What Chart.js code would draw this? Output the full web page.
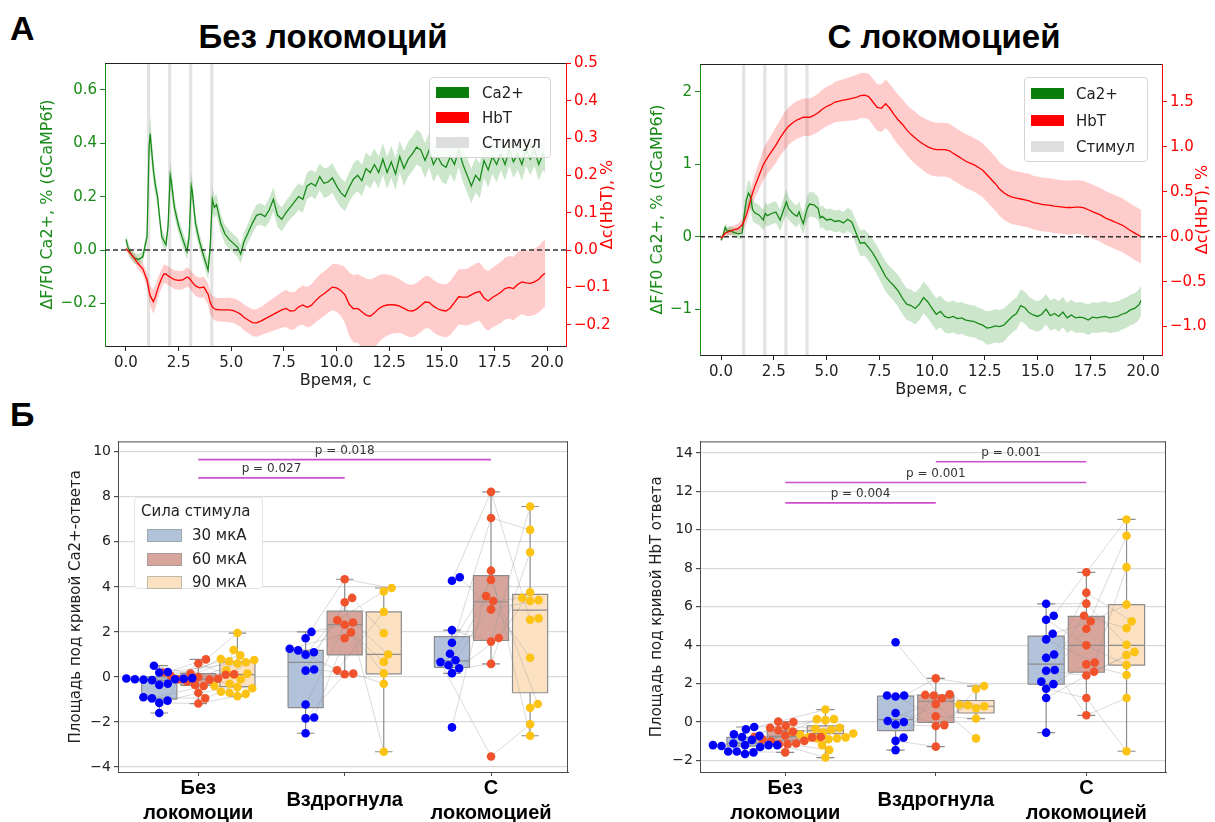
<!DOCTYPE html>
<html lang="ru">
<head>
<meta charset="utf-8">
<title>Ca2+ и HbT: ответы на стимул</title>
<script src="https://cdn.jsdelivr.net/npm/chart.js@4.4.1/dist/chart.umd.min.js"></script>
<style>
  html, body { margin: 0; padding: 0; background: #fff; }
  body { position: relative; width: 1215px; height: 822px; overflow: hidden; font-family: "DejaVu Sans", sans-serif; color: #222; }
  canvas { position: absolute; }
  .letter { position: absolute; font: bold 34px "Liberation Sans", Arial, sans-serif; line-height: 34px; color: #000; }
  .title { position: absolute; font: bold 33px "Liberation Sans", Arial, sans-serif; line-height: 33px; transform: translateX(-50%); white-space: nowrap; color: #000; }
  .legend { position: absolute; background: rgba(255,255,255,0.85); border: 1px solid #d4d4d4; border-radius: 4px; font-size: 15px; box-sizing: border-box; }
  .legend span { position: absolute; white-space: nowrap; line-height: 18px; }
  .legend i { position: absolute; display: block; width: 33px; height: 11px; }
</style>
</head>
<body>
<div class="letter" style="left:10px;top:11px">А</div>
<div class="letter" style="left:10px;top:397px">Б</div>
<div class="title" style="left:323px;top:20px">Без локомоций</div>
<div class="title" style="left:944px;top:20px">С локомоцией</div>

<canvas id="a1" width="582" height="340" style="left:38px;top:50px"></canvas>
<canvas id="a2" width="567" height="349" style="left:648px;top:50px"></canvas>
<canvas id="b1" width="508" height="392" style="left:67px;top:430px"></canvas>
<canvas id="b2" width="527" height="392" style="left:648px;top:430px"></canvas>

<div class="legend" style="left:429px;top:77px;width:122px;height:81px">
  <i style="left:6px;top:9px;background:#0b7d0b"></i><span style="left:52px;top:6px">Ca2+</span>
  <i style="left:6px;top:34px;background:#ff0000"></i><span style="left:52px;top:31px">HbT</span>
  <i style="left:6px;top:59px;background:#dedede"></i><span style="left:52px;top:56px">Стимул</span>
</div>
<div class="legend" style="left:1024px;top:77px;width:124px;height:85px">
  <i style="left:6px;top:10px;background:#0b7d0b"></i><span style="left:51px;top:7px">Ca2+</span>
  <i style="left:6px;top:37px;background:#ff0000"></i><span style="left:51px;top:34px">HbT</span>
  <i style="left:6px;top:63px;background:#dedede"></i><span style="left:51px;top:60px">Стимул</span>
</div>
<div class="legend" style="left:134px;top:497px;width:129px;height:92px;background:#fff;border-color:#e4e4e4">
  <span style="left:6px;top:4px">Сила стимула</span>
  <i style="left:12px;top:31px;background:#b3c2db;border:1px solid #9aa"></i><span style="left:57px;top:28px">30 мкА</span>
  <i style="left:12px;top:55px;background:#d7a59b;border:1px solid #a99"></i><span style="left:57px;top:52px">60 мкА</span>
  <i style="left:12px;top:78px;background:#fbe1c2;border:1px solid #bba"></i><span style="left:57px;top:75px">90 мкА</span>
</div>

<script>
// ---------- data: traces (А) ----------
const stimStart = [1, 2, 3, 4];
const stimDur = 0.15;
const timeTicks = [0, 2.5, 5, 7.5, 10, 12.5, 15, 17.5, 20];

const a1Time = [0, 0.1, 0.2, 0.4, 0.6, 0.8, 1.0, 1.1, 1.15, 1.3, 1.4, 1.5, 1.6, 1.7, 1.8, 1.9, 2.0, 2.1, 2.15, 2.3,
  2.5, 2.7, 2.9, 3.0, 3.1, 3.15, 3.3, 3.5, 3.7, 3.9, 4.0, 4.1, 4.2, 4.3, 4.5, 4.7, 4.9, 5.1, 5.3, 5.45, 5.6, 5.8, 6.0,
  6.2, 6.4, 6.6, 6.8, 7.0, 7.2, 7.4, 7.6, 7.8, 8.0,
  8.2, 8.4, 8.6, 8.8, 9.0, 9.2, 9.4, 9.6, 9.8, 10.0,
  10.2, 10.4, 10.6, 10.8, 11.0, 11.2, 11.4, 11.6, 11.8, 12.0,
  12.2, 12.4, 12.6, 12.8, 13.0, 13.2, 13.4, 13.6, 13.8, 14.0,
  14.2, 14.4, 14.6, 14.8, 15.0, 15.2, 15.4, 15.6, 15.8, 16.0,
  16.2, 16.4, 16.6, 16.8, 17.0, 17.2, 17.4, 17.6, 17.8, 18.0,
  18.2, 18.4, 18.6, 18.8, 19.0, 19.2, 19.4, 19.6, 19.8, 19.9];
const a1Ca = [0.04, 0.01, -0.01, -0.03, -0.035, -0.025, 0.05, 0.39, 0.435, 0.3, 0.24, 0.2, 0.12, 0.05, 0.035, 0.02, 0.09, 0.28, 0.26, 0.16,
  0.09, 0.04, -0.005, 0.05, 0.24, 0.22, 0.1, 0.03, -0.025, -0.075, 0.01, 0.19, 0.16, 0.17, 0.1, 0.06, 0.04, 0.025, 0.01, -0.015, 0.03, 0.065, 0.1,
  0.13, 0.135, 0.125, 0.15, 0.19, 0.13, 0.115, 0.14, 0.16, 0.18,
  0.2, 0.19, 0.24, 0.25, 0.24, 0.275, 0.25, 0.255, 0.27, 0.24,
  0.215, 0.2, 0.235, 0.265, 0.28, 0.26, 0.305, 0.29, 0.32, 0.29,
  0.34, 0.29, 0.33, 0.285, 0.35, 0.305, 0.34, 0.36, 0.385, 0.375,
  0.335, 0.375, 0.32, 0.35, 0.32, 0.31, 0.35, 0.32, 0.375, 0.32,
  0.28, 0.24, 0.28, 0.26, 0.335, 0.3, 0.35, 0.32, 0.36, 0.32,
  0.375, 0.33, 0.36, 0.32, 0.375, 0.34, 0.375, 0.32, 0.36, 0.35];
const a1CaErr = [0.015, 0.02, 0.02, 0.02, 0.02, 0.02, 0.025, 0.05, 0.065, 0.045, 0.04, 0.035, 0.03, 0.03, 0.025, 0.025, 0.03, 0.05, 0.05, 0.035,
  0.03, 0.03, 0.03, 0.035, 0.05, 0.045, 0.035, 0.03, 0.03, 0.035, 0.035, 0.045, 0.04, 0.04, 0.035, 0.035, 0.035, 0.035, 0.035, 0.035, 0.035, 0.035, 0.04,
  0.04, 0.04, 0.04, 0.045, 0.045, 0.045, 0.045, 0.045, 0.045, 0.05,
  0.05, 0.05, 0.05, 0.05, 0.05, 0.05, 0.055, 0.055, 0.055, 0.055,
  0.055, 0.055, 0.055, 0.06, 0.06, 0.06, 0.06, 0.06, 0.06, 0.06,
  0.06, 0.06, 0.06, 0.06, 0.06, 0.065, 0.065, 0.065, 0.065, 0.065,
  0.065, 0.065, 0.065, 0.065, 0.065, 0.065, 0.065, 0.065, 0.065, 0.065,
  0.065, 0.065, 0.065, 0.065, 0.065, 0.065, 0.065, 0.065, 0.06, 0.06,
  0.06, 0.06, 0.06, 0.06, 0.06, 0.06, 0.06, 0.06, 0.06, 0.06];
const a1Hb = [0.004, -0.002, -0.008, -0.022, -0.038, -0.05, -0.08, -0.11, -0.122, -0.138, -0.125, -0.105, -0.089, -0.075, -0.064, -0.064, -0.069, -0.072, -0.074, -0.079,
  -0.081, -0.08, -0.072, -0.075, -0.082, -0.086, -0.096, -0.101, -0.099, -0.118, -0.14, -0.152, -0.157, -0.159, -0.16, -0.16, -0.16, -0.162, -0.167, -0.172, -0.18, -0.187, -0.194,
  -0.195, -0.19, -0.184, -0.178, -0.172, -0.166, -0.16, -0.156, -0.163, -0.162,
  -0.152, -0.147, -0.153, -0.148, -0.136, -0.125, -0.117, -0.108, -0.099, -0.101,
  -0.108, -0.12, -0.145, -0.157, -0.156, -0.165, -0.174, -0.177, -0.168, -0.157,
  -0.15, -0.147, -0.146, -0.147, -0.15, -0.156, -0.162, -0.163, -0.158, -0.149,
  -0.139, -0.14, -0.15, -0.157, -0.161, -0.163, -0.155, -0.14, -0.125, -0.126,
  -0.126, -0.12, -0.114, -0.111, -0.128, -0.136, -0.127, -0.12, -0.113, -0.103,
  -0.1, -0.103, -0.092, -0.085, -0.088, -0.089, -0.085, -0.078, -0.066, -0.062];
const a1HbErr = [0.005, 0.008, 0.01, 0.012, 0.014, 0.016, 0.02, 0.025, 0.028, 0.032, 0.03, 0.028, 0.026, 0.025, 0.025, 0.025, 0.025, 0.025, 0.025, 0.025,
  0.025, 0.025, 0.026, 0.026, 0.026, 0.026, 0.027, 0.027, 0.028, 0.028, 0.03, 0.03, 0.031, 0.031, 0.032, 0.032, 0.033, 0.033, 0.034, 0.034, 0.035, 0.035, 0.036,
  0.037, 0.038, 0.04, 0.042, 0.044, 0.046, 0.048, 0.05, 0.05, 0.05,
  0.05, 0.052, 0.054, 0.056, 0.058, 0.06, 0.06, 0.06, 0.062, 0.064,
  0.068, 0.075, 0.085, 0.09, 0.092, 0.095, 0.098, 0.098, 0.094, 0.09,
  0.086, 0.082, 0.078, 0.075, 0.072, 0.07, 0.07, 0.07, 0.07, 0.07,
  0.07, 0.07, 0.07, 0.07, 0.07, 0.071, 0.072, 0.073, 0.074, 0.075,
  0.076, 0.077, 0.078, 0.078, 0.079, 0.08, 0.08, 0.081, 0.082, 0.083,
  0.084, 0.085, 0.086, 0.087, 0.088, 0.088, 0.089, 0.089, 0.09, 0.09];

const a2Time = [0, 0.1, 0.2, 0.3, 0.4, 0.6, 0.8, 1.0, 1.1, 1.2, 1.3, 1.4, 1.5, 1.6, 1.8, 2.0, 2.1, 2.2, 2.4, 2.6,
  2.8, 3.0, 3.1, 3.2, 3.4, 3.6, 3.7, 3.8, 3.9, 4.0, 4.1, 4.2, 4.4, 4.6, 4.7,
  4.8, 5.0, 5.2, 5.4, 5.6, 5.8, 6.0, 6.2, 6.4, 6.6,
  6.8, 7.0, 7.2, 7.4, 7.6, 7.8, 8.0, 8.2, 8.4, 8.6,
  8.8, 9.0, 9.2, 9.4, 9.6, 9.8, 10.0, 10.2, 10.4, 10.6,
  10.8, 11.0, 11.2, 11.4, 11.6, 11.8, 12.0, 12.2, 12.4, 12.6,
  12.8, 13.0, 13.2, 13.4, 13.6, 13.8, 14.0, 14.2, 14.4, 14.6,
  14.8, 15.0, 15.2, 15.4, 15.6, 15.8, 16.0, 16.2, 16.4, 16.6,
  16.8, 17.0, 17.2, 17.4, 17.6, 17.8, 18.0, 18.2, 18.4, 18.6,
  18.8, 19.0, 19.2, 19.4, 19.6, 19.8, 19.9];
const a2Ca = [-0.05, 0.02, 0.13, 0.07, 0.09, 0.06, 0.04, 0.05, 0.3, 0.5, 0.6, 0.55, 0.37, 0.33, 0.3, 0.23, 0.32, 0.29, 0.32, 0.34,
  0.23, 0.4, 0.48, 0.39, 0.32, 0.28, 0.34, 0.25, 0.18, 0.3, 0.4, 0.45, 0.44, 0.39, 0.26,
  0.28, 0.23, 0.24, 0.21, 0.22, 0.19, 0.24, 0.2, 0.05, -0.09,
  -0.08, -0.15, -0.23, -0.33, -0.44, -0.55, -0.62, -0.68, -0.75, -0.85,
  -0.93, -0.95, -0.99, -0.93, -0.84, -0.9, -0.99, -1.07, -1.03, -1.1,
  -1.12, -1.1, -1.13, -1.12, -1.15, -1.16, -1.17, -1.2, -1.22, -1.26,
  -1.25, -1.23, -1.24, -1.22, -1.16, -1.1, -1.06, -0.95, -0.98, -1.05,
  -1.08, -1.1, -1.07, -1.0, -1.09, -1.06, -1.1, -1.04, -1.12, -1.08,
  -1.12, -1.11, -1.12, -1.15, -1.11, -1.12, -1.11, -1.1, -1.12, -1.11,
  -1.1, -1.07, -1.05, -1.01, -0.99, -0.94, -0.88];
const a2CaErr = [0.03, 0.05, 0.06, 0.06, 0.06, 0.06, 0.07, 0.08, 0.12, 0.16, 0.19, 0.18, 0.15, 0.14, 0.14, 0.14, 0.15, 0.15, 0.15, 0.15,
  0.15, 0.16, 0.18, 0.16, 0.15, 0.15, 0.15, 0.15, 0.15, 0.15, 0.16, 0.17, 0.17, 0.16, 0.15,
  0.15, 0.15, 0.15, 0.15, 0.15, 0.15, 0.16, 0.16, 0.17, 0.18,
  0.18, 0.19, 0.19, 0.2, 0.2, 0.21, 0.21, 0.21, 0.22, 0.22,
  0.22, 0.22, 0.22, 0.22, 0.22, 0.22, 0.22, 0.22, 0.22, 0.22,
  0.22, 0.22, 0.22, 0.22, 0.22, 0.22, 0.22, 0.22, 0.22, 0.23,
  0.23, 0.23, 0.23, 0.23, 0.22, 0.22, 0.22, 0.22, 0.22, 0.22,
  0.21, 0.21, 0.21, 0.21, 0.21, 0.21, 0.21, 0.21, 0.21, 0.21,
  0.21, 0.21, 0.21, 0.21, 0.21, 0.21, 0.21, 0.21, 0.21, 0.21,
  0.21, 0.21, 0.21, 0.21, 0.21, 0.21, 0.2];
const a2Hb = [-0.02, 0.01, 0.04, 0.05, 0.06, 0.075, 0.09, 0.13, 0.18, 0.24, 0.32, 0.41, 0.49, 0.56, 0.68, 0.8, 0.84, 0.88, 0.95, 1.02,
  1.1, 1.17, 1.2, 1.23, 1.27, 1.3, 1.31, 1.32, 1.33, 1.33, 1.33, 1.33, 1.35, 1.38, 1.4,
  1.42, 1.45, 1.47, 1.5, 1.51, 1.52, 1.53, 1.54, 1.55, 1.57,
  1.575, 1.56, 1.5, 1.44, 1.43, 1.48, 1.43, 1.36, 1.3, 1.25,
  1.19, 1.14, 1.1, 1.06, 1.03, 1.0, 0.98, 0.97, 0.97, 0.97,
  0.96, 0.93, 0.9, 0.87, 0.84, 0.82, 0.8, 0.77, 0.74, 0.69,
  0.64, 0.59, 0.53, 0.49, 0.46, 0.44, 0.43, 0.42, 0.41, 0.4,
  0.38, 0.37, 0.36, 0.355, 0.35, 0.34, 0.335, 0.33, 0.325, 0.325,
  0.33, 0.33, 0.32, 0.3, 0.28, 0.26, 0.24, 0.21, 0.19, 0.17,
  0.15, 0.13, 0.1, 0.07, 0.04, 0.015, 0.0];
const a2HbErr = [0.03, 0.03, 0.035, 0.04, 0.045, 0.05, 0.055, 0.07, 0.08, 0.09, 0.1, 0.11, 0.12, 0.13, 0.15, 0.17, 0.175, 0.18, 0.19, 0.2,
  0.2, 0.21, 0.21, 0.21, 0.21, 0.21, 0.21, 0.21, 0.21, 0.21, 0.21, 0.21, 0.21, 0.215, 0.215,
  0.22, 0.22, 0.22, 0.225, 0.23, 0.235, 0.24, 0.245, 0.25, 0.25,
  0.25, 0.255, 0.26, 0.26, 0.265, 0.27, 0.27, 0.275, 0.28, 0.28,
  0.28, 0.285, 0.29, 0.29, 0.295, 0.3, 0.3, 0.3, 0.3, 0.3,
  0.3, 0.3, 0.3, 0.3, 0.3, 0.3, 0.3, 0.3, 0.3, 0.3,
  0.3, 0.3, 0.3, 0.3, 0.3, 0.3, 0.3, 0.3, 0.3, 0.3,
  0.3, 0.3, 0.3, 0.3, 0.3, 0.3, 0.3, 0.3, 0.3, 0.3,
  0.3, 0.3, 0.3, 0.3, 0.3, 0.3, 0.3, 0.3, 0.3, 0.3,
  0.3, 0.3, 0.3, 0.3, 0.3, 0.3, 0.3];

const a1LeftTicks = [-0.2, 0, 0.2, 0.4, 0.6];
const a1RightTicks = [-0.2, -0.1, 0, 0.1, 0.2, 0.3, 0.4, 0.5];
const a2LeftTicks = [-1, 0, 1, 2];
const a2RightTicks = [-1, -0.5, 0, 0.5, 1, 1.5];

// ---------- data: areas under curve (Б) ----------
const categories = [['Без', 'локомоции'], 'Вздрогнула', ['С', 'локомоцией']];
const caTicks = [-4, -2, 0, 2, 4, 6, 8, 10];
const hbTicks = [-2, 0, 2, 4, 6, 8, 10, 12, 14];

// one inner list per category, values in subject order
const caPts30 = [
  [0.5, 0.22, 0.2, -0.05, -0.07, -0.08, -0.1, -0.1, -0.12, -0.14, -0.3, -0.35, -0.9, -0.95, -1.05, -1.15, -1.6],
  [2.0, 1.72, 1.25, 1.18, 1.1, 0.99, 0.33, 0.28, -1.22, -1.8, -1.84, -2.5],
  [4.43, 4.27, 2.08, 1.52, 1.03, 0.74, 0.66, 0.52, 0.38, 0.17, -2.24]];
const caPts60 = [
  [0.15, 0.78, 0.12, 0.2, -0.08, 0.1, 0.6, 0.05, -0.35, 0.0, -0.12, -0.2, -0.95, -0.4, -0.7, -1.18, -0.1],
  [2.42, 4.34, 1.98, 0.3, 2.52, 3.51, 0.15, 3.32, 2.32, 1.72, 0.12],
  [3.0, 8.22, 1.57, 4.31, 7.06, 3.37, -3.53, 3.59, 0.58, 1.73, 4.72]];
const caPts90 = [
  [0.8, 1.95, 0.1, 0.65, 0.3, 1.2, -0.1, 0.96, -0.5, 0.15, -0.3, 0.6, -0.65, 0.75, -0.45, -0.85, 0.7, -0.75, -0.4, -0.7],
  [1.0, 3.95, 0.67, 2.89, 3.8, 1.94, -0.3, -3.32, 0.16],
  [3.41, 2.54, 7.57, -1.2, 6.53, 3.51, -2.1, 0.85, 5.54, 3.76, -2.61, 3.37, 2.6, -1.37]];
// [lower whisker, q1, median, q3, upper whisker] per category
const caBox30 = [[-1.6, -0.98, -0.15, 0.0, 0.5], [-2.5, -1.36, 0.65, 1.18, 2.0], [0.16, 0.42, 0.71, 1.79, 2.08]];
const caBox60 = [[-1.18, -0.38, -0.1, 0.15, 0.78], [0.12, 0.98, 2.32, 2.92, 4.34], [0.58, 1.62, 3.34, 4.5, 8.22]];
const caBox90 = [[-0.85, -0.43, 0.1, 0.67, 1.95], [-3.32, 0.14, 1.0, 2.89, 3.95], [-2.61, -0.7, 2.97, 3.67, 7.57]];
const caSig = [[0, 1, 8.84, 'p = 0.027'], [0, 2, 9.65, 'p = 0.018']];

const hbPts30 = [
  [-0.26, -0.38, -0.64, -0.72, -0.78, -0.93, -1.12, -1.2, -1.2, -1.2, -1.2, -1.25, -1.3, -1.53, -1.53, -1.58, -1.66],
  [4.15, 1.38, 1.33, 1.38, 0.47, 0.05, 0.0, -0.13, -0.81, -0.98, -1.46],
  [6.15, 5.53, 5.32, 4.59, 4.3, 3.51, 3.34, 2.71, 2.67, 2.1, 1.97, 1.73, 1.25, -0.55]];
const hbPts60 = [
  [-0.2, 0.02, -0.43, -0.3, -0.78, -0.5, -1.12, -0.7, 0.0, -0.8, -1.15, -0.98, -0.78, -1.58, -0.9, -1.15, -1.0],
  [1.24, 2.27, 0.3, 1.41, -0.16, 1.44, 0.93, -0.21, 1.38, -1.28],
  [6.16, 7.79, 3.99, 5.24, 3.1, 6.73, 0.35, 4.85, 2.42, 5.53, 3.0, 1.25, 2.62]];
const hbPts90 = [
  [-0.4, 0.65, -0.55, 0.15, -0.85, -0.3, -0.6, -0.35, 0.1, -0.8, -1.45, -0.5, -0.9, -0.65, -1.85, -0.8, 0.15, -1.2, -0.85],
  [0.82, 1.87, 0.18, 0.9, 1.72, 0.72, -0.85, 0.87],
  [4.02, 10.54, 2.96, 6.11, 8.06, 5.24, 1.25, 9.69, 3.48, 4.88, 2.45, -1.52, 3.65]];
const hbBox30 = [[-1.66, -1.25, -1.1, -0.8, -0.26], [-1.46, -0.45, 0.13, 1.35, 1.38], [-0.55, 1.97, 3.01, 4.47, 6.15]];
const hbBox60 = [[-1.58, -0.98, -0.75, -0.45, 0.02], [-1.28, -0.02, 1.08, 1.4, 2.27], [0.35, 2.59, 3.99, 5.5, 7.79]];
const hbBox90 = [[-1.85, -0.6, -0.45, -0.2, 0.65], [0.18, 0.47, 0.82, 1.12, 1.87], [-1.52, 2.96, 3.99, 6.11, 10.54]];
const hbSig = [[0, 1, 11.4, 'p = 0.004'], [0, 2, 12.46, 'p = 0.001'], [1, 2, 13.54, 'p = 0.001']];

// ---------- styles ----------
const GREEN = '#178a17';
const RED = '#ff0000';
const CA_BAND = 'rgba(0,128,0,0.2)';
const HB_BAND = 'rgba(255,0,0,0.2)';
const STIM = 'rgba(128,128,128,0.22)';
const DOT = ['#0000ff', '#f0522c', '#fcc214'];
const BOX_FILL = ['#b3c2db', '#d7a59b', '#fbe1c2'];
const EDGE = '#8c8c8c';
const SIG = 'rgba(200,60,200,0.9)';
const HUE_OFF = [-0.267, 0, 0.267];
const BOX_W = 0.24;
const CAP_W = 0.12;
const DOT_R = 4.3;

Chart.defaults.font.family = "'DejaVu Sans', sans-serif";
Chart.defaults.color = '#222';
Chart.defaults.animation = false;

const fmt1 = (v) => v.toFixed(1).replace('-', '\u2212');
const fmt0 = (v) => String(v).replace('-', '\u2212');
const fixTicks = (vals) => (scale) => { scale.ticks = vals.map((v) => ({ value: v })); };

// ---------- plugins ----------
const stimSpans = {
  id: 'stimSpans',
  beforeDatasetsDraw(chart, args, o) {
    const { ctx, chartArea: a, scales: { x } } = chart;
    ctx.save();
    ctx.fillStyle = o.color;
    o.starts.forEach((s) => {
      const x0 = x.getPixelForValue(s);
      const x1 = x.getPixelForValue(s + o.width);
      ctx.fillRect(x0, a.top, x1 - x0, a.bottom - a.top);
    });
    ctx.restore();
  },
};

const zeroLine = {
  id: 'zeroLine',
  afterDatasetsDraw(chart) {
    const { ctx, chartArea: a, scales: { y } } = chart;
    const py = y.getPixelForValue(0);
    ctx.save();
    ctx.strokeStyle = '#333';
    ctx.lineWidth = 1.5;
    ctx.setLineDash([5, 3]);
    ctx.beginPath();
    ctx.moveTo(a.left, py);
    ctx.lineTo(a.right, py);
    ctx.stroke();
    ctx.restore();
  },
};

const frame = {
  id: 'frame',
  afterDraw(chart, args, o) {
    const { ctx, chartArea: a } = chart;
    ctx.save();
    ctx.strokeStyle = o.color;
    ctx.lineWidth = 1;
    ctx.beginPath();
    ctx.moveTo(a.left, a.top + 0.5);
    ctx.lineTo(a.right, a.top + 0.5);
    if (o.right) {
      ctx.moveTo(a.right - 0.5, a.top);
      ctx.lineTo(a.right - 0.5, a.bottom);
    }
    ctx.stroke();
    ctx.restore();
  },
};

const sideTitle = {
  id: 'sideTitle',
  afterDraw(chart, args, o) {
    const { ctx, chartArea: a } = chart;
    const s = chart.scales.y1;
    ctx.save();
    ctx.translate(s.right - o.offset, (a.top + a.bottom) / 2);
    ctx.rotate(-Math.PI / 2);
    ctx.font = o.font;
    ctx.fillStyle = o.color;
    ctx.textAlign = 'center';
    ctx.textBaseline = 'middle';
    ctx.fillText(o.text, 0, 0);
    ctx.restore();
  },
};

const sigText = {
  id: 'sigText',
  afterDatasetsDraw(chart, args, o) {
    const { ctx, scales: { x, y } } = chart;
    ctx.save();
    ctx.font = "12px 'DejaVu Sans'";
    ctx.fillStyle = '#333';
    ctx.textAlign = 'center';
    ctx.textBaseline = 'bottom';
    o.items.forEach(([a, b, h, label]) => {
      ctx.fillText(label, x.getPixelForValue((a + b) / 2), y.getPixelForValue(h) - 3);
    });
    ctx.restore();
  },
};

// ---------- А: averaged traces ----------
function traceChart(id, o) {
  const pts = (m, e, sign) => o.t.map((t, i) => ({ x: t, y: m[i] + sign * e[i] }));
  const edge = { borderWidth: 0, pointRadius: 0 };
  const datasets = [
    { ...edge, data: pts(o.hb, o.hbErr, 1), yAxisID: 'y1', fill: false, order: 3 },
    { ...edge, data: pts(o.hb, o.hbErr, -1), yAxisID: 'y1', fill: '-1', backgroundColor: HB_BAND, order: 3 },
    { ...edge, data: pts(o.ca, o.caErr, 1), yAxisID: 'y', fill: false, order: 2 },
    { ...edge, data: pts(o.ca, o.caErr, -1), yAxisID: 'y', fill: '-1', backgroundColor: CA_BAND, order: 2 },
    { data: pts(o.hb, o.hbErr, 0), yAxisID: 'y1', borderColor: RED, borderWidth: 1.3, pointRadius: 0, order: 1 },
    { data: pts(o.ca, o.caErr, 0), yAxisID: 'y', borderColor: GREEN, borderWidth: 1.3, pointRadius: 0, order: 1 },
  ];
  const tickFont = { size: 15 };
  const titleFont = { size: 16 };
  return new Chart(document.getElementById(id), {
    type: 'line',
    data: { datasets },
    plugins: [stimSpans, zeroLine, frame, sideTitle],
    options: {
      responsive: false,
      layout: { padding: { top: o.padTop, left: 0, right: 0, bottom: 0 } },
      plugins: {
        legend: { display: false },
        tooltip: { enabled: false },
        stimSpans: { starts: stimStart, width: stimDur, color: STIM },
        frame: { color: '#222', right: false },
        sideTitle: { text: 'Δc(HbT), %', color: RED, font: "16px 'DejaVu Sans'", offset: 12 },
      },
      scales: {
        x: {
          type: 'linear', min: -0.995, max: 20.895,
          afterBuildTicks: fixTicks(timeTicks),
          afterFit: (s) => { s.height = o.xH; },
          ticks: { callback: fmt1, font: tickFont, color: '#222', padding: 3, maxRotation: 0 },
          grid: { drawOnChartArea: false, tickLength: 5, tickColor: '#222' },
          border: { color: '#222' },
          title: { display: true, text: 'Время, с', font: titleFont, color: '#222', padding: 0 },
        },
        y: {
          position: 'left', min: o.yMin, max: o.yMax,
          afterBuildTicks: fixTicks(o.leftTicks),
          afterFit: (s) => { s.width = o.leftW; },
          ticks: { callback: o.leftFmt, font: tickFont, color: GREEN, padding: 3 },
          grid: { drawOnChartArea: false, tickLength: 5, tickColor: GREEN },
          border: { color: GREEN },
          title: { display: true, text: 'ΔF/F0 Ca2+, % (GCaMP6f)', font: titleFont, color: GREEN, padding: 0 },
        },
        y1: {
          position: 'right', min: o.y1Min, max: o.y1Max,
          afterBuildTicks: fixTicks(o.rightTicks),
          afterFit: (s) => { s.width = o.rightW; },
          ticks: { callback: fmt1, font: tickFont, color: RED, padding: 3 },
          grid: { drawOnChartArea: false, tickLength: 5, tickColor: RED },
          border: { color: RED },
        },
      },
    },
  });
}

traceChart('a1', {
  t: a1Time, ca: a1Ca, caErr: a1CaErr, hb: a1Hb, hbErr: a1HbErr,
  yMin: -0.359, yMax: 0.7, y1Min: -0.2567, y1Max: 0.5008,
  leftTicks: a1LeftTicks, rightTicks: a1RightTicks, leftFmt: fmt1,
  padTop: 13, xH: 44, leftW: 67, rightW: 54,
});
traceChart('a2', {
  t: a2Time, ca: a2Ca, caErr: a2CaErr, hb: a2Hb, hbErr: a2HbErr,
  yMin: -1.632, yMax: 2.382, y1Min: -1.317, y1Max: 1.923,
  leftTicks: a2LeftTicks, rightTicks: a2RightTicks, leftFmt: fmt0,
  padTop: 14, xH: 44, leftW: 52, rightW: 53,
});

// ---------- Б: box + swarm ----------
function swarm(chart, groups) {
  const xs = chart.scales.x;
  const ys = chart.scales.y;
  const d = 2 * DOT_R;
  groups.forEach((g) => {
    const placed = [];
    g.slice().sort((a, b) => a.y - b.y).forEach((p) => {
      const py = ys.getPixelForValue(p.y);
      const near = placed.filter((q) => Math.abs(q.py - py) < d);
      const cands = [0];
      near.forEach((q) => {
        const dx = Math.sqrt(d * d - (q.py - py) ** 2);
        cands.push(q.off + dx, q.off - dx);
      });
      cands.sort((a, b) => Math.abs(a) - Math.abs(b));
      const off = cands.find((c) => near.every((q) => (q.off - c) ** 2 + (q.py - py) ** 2 >= d * d - 0.5));
      placed.push({ off, py });
      p.x = xs.getValueForPixel(xs.getPixelForValue(p.base) + off);
    });
  });
  chart.update('none');
}

function groupChart(id, o) {
  const groups = [];
  const pts = o.points.map((hue, h) => hue.map((vals, c) => {
    const g = vals.map((v) => ({ x: c + HUE_OFF[h], y: v, base: c + HUE_OFF[h] }));
    groups.push(g);
    return g;
  }));
  const line = { type: 'line', pointRadius: 0, fill: false };
  const datasets = [];

  pts.forEach((hue, h) => datasets.push({
    type: 'scatter', data: hue.flat(), backgroundColor: DOT[h], borderWidth: 0,
    pointRadius: DOT_R, pointHoverRadius: DOT_R, order: 1,
  }));

  o.sig.forEach(([a, b, y]) => datasets.push({
    ...line, data: [{ x: a, y }, { x: b, y }], borderColor: SIG, borderWidth: 1.6, order: 2,
  }));

  // grey lines joining the same animal across stimulus strengths
  const links = [];
  categories.forEach((_, c) => {
    const n = Math.max(...pts.map((hue) => hue[c].length));
    for (let i = 0; i < n; i++) {
      const chain = pts.map((hue) => hue[c][i]).filter(Boolean);
      if (chain.length > 1) links.push(...chain, { x: null, y: null });
    }
  });
  datasets.push({ ...line, data: links, borderColor: 'rgba(150,150,150,0.35)', borderWidth: 1, spanGaps: false, order: 3 });

  o.boxes.forEach((hue, h) => hue.forEach(([lo, q1, med, q3, hi], c) => {
    const cx = c + HUE_OFF[h];
    const l = cx - BOX_W / 2;
    const r = cx + BOX_W / 2;
    datasets.push({
      ...line, fill: 'shape', backgroundColor: BOX_FILL[h], borderColor: EDGE, borderWidth: 1.2, order: 5,
      data: [{ x: l, y: q1 }, { x: r, y: q1 }, { x: r, y: q3 }, { x: l, y: q3 }, { x: l, y: q1 }],
    });
    datasets.push({
      ...line, borderColor: EDGE, borderWidth: 1.2, spanGaps: false, order: 4,
      data: [
        { x: cx, y: lo }, { x: cx, y: q1 }, { x: null, y: null },
        { x: cx, y: q3 }, { x: cx, y: hi }, { x: null, y: null },
        { x: cx - CAP_W / 2, y: lo }, { x: cx + CAP_W / 2, y: lo }, { x: null, y: null },
        { x: cx - CAP_W / 2, y: hi }, { x: cx + CAP_W / 2, y: hi }, { x: null, y: null },
        { x: l, y: med }, { x: r, y: med },
      ],
    });
  }));

  const chart = new Chart(document.getElementById(id), {
    type: 'scatter',
    data: { datasets },
    plugins: [frame, sigText],
    options: {
      responsive: false,
      layout: { padding: { top: o.padTop, right: o.padRight, left: 0, bottom: 0 } },
      plugins: {
        legend: { display: false },
        tooltip: { enabled: false },
        frame: { color: '#4a4a4a', right: true },
        sigText: { items: o.sig },
      },
      scales: {
        x: {
          type: 'linear', min: o.xMin, max: o.xMax,
          afterBuildTicks: fixTicks(categories.map((_, i) => i)),
          afterFit: (s) => { s.height = 50; },
          ticks: {
            callback: (v) => categories[v], color: '#000', padding: 12, crossAlign: 'center', maxRotation: 0, autoSkip: false,
            font: { family: "'Liberation Sans', Arial, sans-serif", weight: 'bold', size: 20, lineHeight: 1.25 },
          },
          grid: { drawOnChartArea: false, tickLength: 4, tickColor: '#4a4a4a' },
          border: { color: '#4a4a4a' },
        },
        y: {
          min: o.yMin, max: o.yMax,
          afterBuildTicks: fixTicks(o.ticks),
          afterFit: (s) => { s.width = o.leftW; },
          ticks: { callback: fmt0, color: '#222', font: { size: 14 }, padding: 3 },
          grid: { color: '#d9d9d9', lineWidth: 1.2, tickLength: 4, tickColor: '#4a4a4a' },
          border: { color: '#4a4a4a' },
          title: { display: true, text: o.title, font: { size: 15 }, color: '#222', padding: 0 },
        },
      },
    },
  });
  swarm(chart, groups);
  return chart;
}

groupChart('b1', {
  points: [caPts30, caPts60, caPts90], boxes: [caBox30, caBox60, caBox90], sig: caSig, ticks: caTicks,
  title: 'Площадь под кривой Ca2+-ответа',
  xMin: -0.549, xMax: 2.526, yMin: -4.22, yMax: 10.46,
  padTop: 6, padRight: 7, leftW: 51,
});
groupChart('b2', {
  points: [hbPts30, hbPts60, hbPts90], boxes: [hbBox30, hbBox60, hbBox90], sig: hbSig, ticks: hbTicks,
  title: 'Площадь под кривой HbT ответа',
  xMin: -0.566, xMax: 2.529, yMin: -2.6, yMax: 14.6,
  padTop: 7, padRight: 9, leftW: 52,
});
</script>
</body>
</html>
